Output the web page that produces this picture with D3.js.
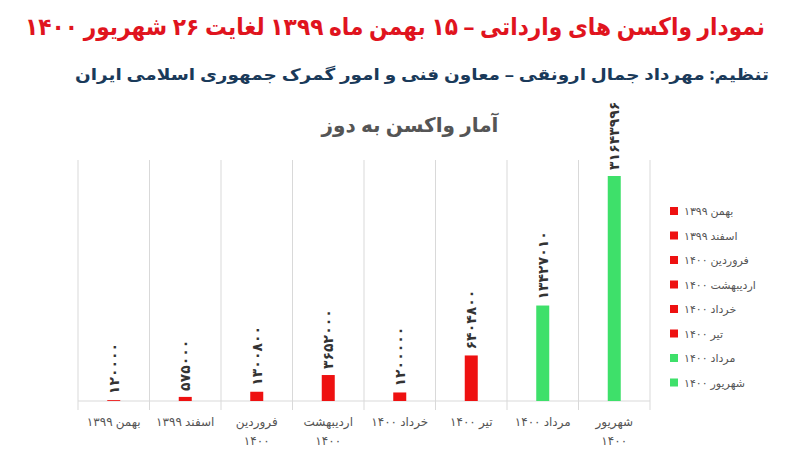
<!DOCTYPE html>
<html><head><meta charset="utf-8">
<script src="https://cdn.jsdelivr.net/npm/d3@7"></script>
<style>body{margin:0;background:#fff;font-family:"Noto Sans","DejaVu Sans",sans-serif}</style>
</head><body><svg id="c" width="791" height="464"></svg>
<script>
const categories=[["بهمن ۱۳۹۹"],["اسفند ۱۳۹۹"],["فروردین","۱۴۰۰"],["اردیبهشت","۱۴۰۰"],["خرداد ۱۴۰۰"],["تیر ۱۴۰۰"],["مرداد ۱۴۰۰"],["شهریور","۱۴۰۰"]];
const legendNames=["بهمن ۱۳۹۹","اسفند ۱۳۹۹","فروردین ۱۴۰۰","اردیبهشت ۱۴۰۰","خرداد ۱۴۰۰","تیر ۱۴۰۰","مرداد ۱۴۰۰","شهریور ۱۴۰۰"];
const values=[120000,575000,1300800,3652000,1200000,6404800,13427010,31643996];
const colors=["#ee1111","#ee1111","#ee1111","#ee1111","#ee1111","#ee1111","#3ee06a","#3ee06a"];
const fa=n=>String(n).replace(/\d/g,d=>"۰۱۲۳۴۵۶۷۸۹"[d]);
const svg=d3.select("#c");
svg.append("text").attr("x",395).attr("y",35).attr("text-anchor","middle").attr("direction","rtl")
 .attr("fill","#e0141e").attr("font-weight","bold").attr("font-size",24)
 .attr("textLength",740).attr("lengthAdjust","spacingAndGlyphs")
 .text("نمودار واکسن های وارداتی – ۱۵ بهمن ماه ۱۳۹۹ لغایت ۲۶ شهریور ۱۴۰۰");
svg.append("text").attr("x",422).attr("y",80).attr("text-anchor","middle").attr("direction","rtl")
 .attr("fill","#1a3a5a").attr("font-weight","bold").attr("font-size",16)
 .attr("textLength",694).attr("lengthAdjust","spacingAndGlyphs")
 .text("تنظیم: مهرداد جمال ارونقی – معاون فنی و امور گمرک جمهوری اسلامی ایران");
svg.append("text").attr("x",410).attr("y",132).attr("text-anchor","middle").attr("direction","rtl")
 .attr("fill","#555").attr("font-weight","bold").attr("font-size",20).text("آمار واکسن به دوز");
const x=d3.scaleBand().domain(d3.range(8)).range([78,650]);
const y=d3.scaleLinear().domain([0,31643996]).range([401,176]);
svg.append("g").selectAll("line").data(d3.range(9)).join("line")
 .attr("x1",i=>78+i*x.step()).attr("x2",i=>78+i*x.step()).attr("y1",160).attr("y2",410)
 .attr("stroke","#d9d9d9");
svg.append("line").attr("x1",78).attr("x2",650).attr("y1",401).attr("y2",401).attr("stroke","#d9d9d9");
const bw=13;
svg.append("g").selectAll("rect").data(values).join("rect")
 .attr("x",(d,i)=>x(i)+x.bandwidth()/2-bw/2).attr("width",bw)
 .attr("y",d=>y(d)).attr("height",d=>401-y(d)).attr("fill",(d,i)=>colors[i]);
svg.append("g").selectAll("text").data(values).join("text")
 .attr("transform",(d,i)=>`translate(${x(i)+x.bandwidth()/2+5},${y(d)-6}) rotate(-90)`)
 .attr("font-size",14).attr("font-weight","bold").attr("fill","#333").text(d=>fa(d));
const xl=svg.append("g").selectAll("text").data(categories).join("text")
 .attr("x",(d,i)=>x(i)+x.bandwidth()/2).attr("y",426).attr("text-anchor","middle").attr("direction","ltr")
 .attr("font-size",12).attr("fill","#555");
xl.selectAll("tspan").data(d=>d).join("tspan").attr("x",function(){return this.parentNode.getAttribute("x")})
 .attr("dy",(d,j)=>j?19:0).text(d=>d);
const lg=svg.append("g").selectAll("g").data(legendNames).join("g")
 .attr("transform",(d,i)=>`translate(670,${211+i*24.5})`);
lg.append("rect").attr("width",8).attr("height",8).attr("y",-4).attr("fill",(d,i)=>colors[i]);
lg.append("text").attr("x",14).attr("y",4).attr("font-size",11).attr("fill","#555").attr("direction","ltr")
 .attr("text-anchor","start").text(d=>d);
</script></body></html>
